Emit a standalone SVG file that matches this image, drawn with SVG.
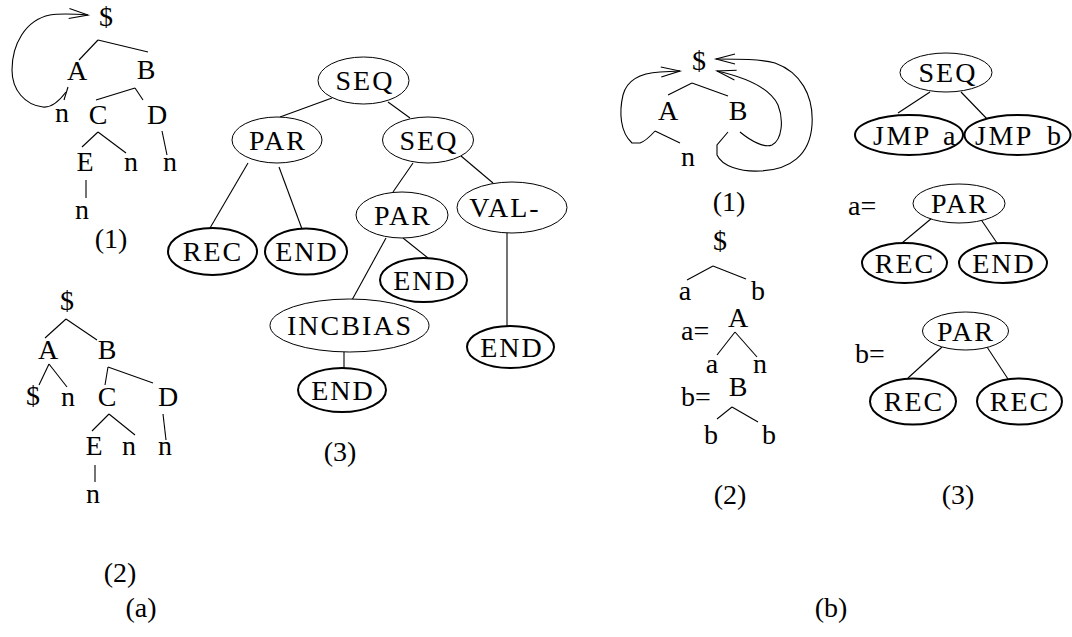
<svg xmlns="http://www.w3.org/2000/svg" width="1072" height="637" viewBox="0 0 1072 637">
<style>
text{font-family:"Liberation Serif","Times New Roman",serif;font-size:28px;fill:#000;text-anchor:middle}
.lbl{letter-spacing:2px}
.eq,.st{text-anchor:start}
.jmp{text-anchor:start;letter-spacing:2.5px}
.thin{fill:#fff;stroke:#000;stroke-width:1}
.thick{fill:#fff;stroke:#000;stroke-width:2}
.c line,.c path{stroke:#000;stroke-width:1.1;fill:none}
</style>
<defs>
<marker id="open" markerUnits="userSpaceOnUse" markerWidth="24" markerHeight="14" refX="20" refY="6" orient="auto" viewBox="0 0 24 12">
<path d="M1,1 L20,6 L1,11" fill="none" stroke="#000" stroke-width="1.1"/>
</marker>
</defs>
<rect width="1072" height="637" fill="#fff"/>

<!-- connectors -->
<g class="c" id="connectors">
<!-- (a)(1) -->
<line x1="98" y1="40" x2="79" y2="60"/>
<line x1="98" y1="40" x2="148" y2="52"/>
<line x1="68" y1="87" x2="64" y2="100"/>
<line x1="135" y1="88" x2="96" y2="100"/>
<line x1="135" y1="88" x2="143" y2="100"/>
<line x1="98" y1="132" x2="82" y2="147"/>
<line x1="98" y1="132" x2="126" y2="153"/>
<line x1="162" y1="131" x2="167" y2="155"/>
<line x1="86" y1="180" x2="86" y2="198"/>
<path d="M66,92 C60,100 52,108 43,107 C25,105 12,90 12,70 C12,45 25,20 50,15 C62,13 75,14 88,15" marker-end="url(#open)"/>
<!-- (a)(2) -->
<line x1="66" y1="319" x2="45" y2="338"/>
<line x1="66" y1="319" x2="97" y2="340"/>
<line x1="49" y1="364" x2="39" y2="385"/>
<line x1="49" y1="364" x2="67" y2="387"/>
<line x1="108" y1="367" x2="105" y2="385"/>
<line x1="108" y1="367" x2="153" y2="383"/>
<line x1="109" y1="414" x2="92" y2="431"/>
<line x1="109" y1="414" x2="135" y2="435"/>
<line x1="163" y1="414" x2="166" y2="440"/>
<line x1="95" y1="465" x2="95" y2="482"/>
<!-- (a)(3) -->
<line x1="332" y1="98" x2="280" y2="117"/>
<line x1="388" y1="102" x2="410" y2="118"/>
<line x1="248" y1="163" x2="210" y2="228"/>
<line x1="279" y1="167" x2="302" y2="229"/>
<line x1="413" y1="163" x2="393" y2="192"/>
<line x1="461" y1="156" x2="493" y2="183"/>
<line x1="507" y1="233" x2="507" y2="326"/>
<line x1="386" y1="238" x2="352" y2="300"/>
<line x1="403" y1="238" x2="428" y2="258"/>
<line x1="344" y1="352" x2="344" y2="368"/>
<!-- (b)(1) -->
<line x1="692" y1="83" x2="668" y2="95"/>
<line x1="692" y1="83" x2="728" y2="96"/>
<line x1="655" y1="131" x2="680" y2="143"/>
<path d="M655,131 Q646,141 640,143 L632,143 C620,132 619,112 623,95 C627,80 640,73 660,72 L680,71" marker-end="url(#open)"/>
<path d="M740,132 C752,142 765,148 772,145 C782,140 784,120 778,105 C770,88 748,78 717,71" marker-end="url(#open)"/>
<path d="M728,132 L717,145 L717,155 C722,166 740,172 760,171 C790,170 810,155 812,125 C814,95 800,72 775,63 C760,59 740,59 716,59" marker-end="url(#open)"/>
<!-- (b)(2) -->
<line x1="713" y1="266" x2="687" y2="280"/>
<line x1="713" y1="266" x2="746" y2="279"/>
<line x1="735" y1="332" x2="717" y2="355"/>
<line x1="735" y1="332" x2="757" y2="357"/>
<line x1="732" y1="407" x2="717" y2="419"/>
<line x1="732" y1="407" x2="758" y2="422"/>
<!-- (b)(3) -->
<line x1="930" y1="92" x2="898" y2="113"/>
<line x1="961" y1="92" x2="990" y2="122"/>
<line x1="932" y1="218" x2="902" y2="243"/>
<line x1="980" y1="218" x2="997" y2="243"/>
<line x1="942" y1="347" x2="908" y2="378"/>
<line x1="987" y1="347" x2="1008" y2="379"/>
</g>

<!-- (a)(1) nodes -->
<g id="a1-root"><text x="106" y="26">$</text></g>
<g id="a1-A"><text x="77" y="80">A</text></g>
<g id="a1-B"><text x="146" y="79">B</text></g>
<g id="a1-n1"><text x="62" y="122">n</text></g>
<g id="a1-C"><text x="98" y="124">C</text></g>
<g id="a1-D"><text x="157" y="124">D</text></g>
<g id="a1-E"><text x="85" y="171">E</text></g>
<g id="a1-n2"><text x="131" y="171">n</text></g>
<g id="a1-n3"><text x="170" y="171">n</text></g>
<g id="a1-n4"><text x="82" y="219">n</text></g>
<g id="a1-cap"><text x="111" y="248">(1)</text></g>

<!-- (a)(2) nodes -->
<g id="a2-root"><text x="67" y="310">$</text></g>
<g id="a2-A"><text x="48" y="359">A</text></g>
<g id="a2-B"><text x="107" y="359">B</text></g>
<g id="a2-dollar"><text x="33" y="405">$</text></g>
<g id="a2-n1"><text x="68" y="406">n</text></g>
<g id="a2-C"><text x="107" y="406">C</text></g>
<g id="a2-D"><text x="168" y="406">D</text></g>
<g id="a2-E"><text x="94" y="455">E</text></g>
<g id="a2-n2"><text x="129" y="455">n</text></g>
<g id="a2-n3"><text x="165" y="455">n</text></g>
<g id="a2-n4"><text x="93" y="503">n</text></g>
<g id="a2-cap"><text x="120" y="582">(2)</text></g>
<g id="a-cap"><text x="141" y="617">(a)</text></g>

<!-- (a)(3) nodes -->
<g id="a3-seq1"><ellipse class="thin" cx="363.5" cy="80.5" rx="45.5" ry="23.5"/><text class="lbl" x="365" y="90">SEQ</text></g>
<g id="a3-par1"><ellipse class="thin" cx="277" cy="140" rx="45" ry="23"/><text class="lbl" x="278" y="150">PAR</text></g>
<g id="a3-seq2"><ellipse class="thin" cx="428" cy="140" rx="45.5" ry="23"/><text class="lbl" x="429" y="150">SEQ</text></g>
<g id="a3-rec"><ellipse class="thick" cx="212.5" cy="251.5" rx="44.5" ry="23.5"/><text class="lbl" x="213" y="261">REC</text></g>
<g id="a3-end1"><ellipse class="thick" cx="306" cy="251.5" rx="41" ry="23"/><text class="lbl" x="307" y="261">END</text></g>
<g id="a3-par2"><ellipse class="thin" cx="402" cy="215" rx="46" ry="23"/><text class="lbl" x="403" y="225">PAR</text></g>
<g id="a3-val"><ellipse class="thin" cx="512" cy="207.5" rx="55" ry="25.5"/><text class="lbl" x="505" y="217">VAL-</text></g>
<g id="a3-end2"><ellipse class="thick" cx="423.5" cy="280" rx="43.5" ry="22"/><text class="lbl" x="425" y="290">END</text></g>
<g id="a3-incbias"><ellipse class="thin" cx="349.5" cy="325.5" rx="79.5" ry="26.5"/><text class="lbl" x="350" y="335">INCBIAS</text></g>
<g id="a3-end3"><ellipse class="thick" cx="342" cy="390" rx="44" ry="22"/><text class="lbl" x="343" y="400">END</text></g>
<g id="a3-end4"><ellipse class="thick" cx="510.5" cy="347" rx="43.5" ry="21"/><text class="lbl" x="512" y="357">END</text></g>
<g id="a3-cap"><text x="340" y="461">(3)</text></g>

<!-- (b)(1) nodes -->
<g id="b1-root"><text x="699" y="70">$</text></g>
<g id="b1-A"><text x="668" y="120">A</text></g>
<g id="b1-B"><text x="738" y="120">B</text></g>
<g id="b1-n"><text x="688" y="166">n</text></g>
<g id="b1-cap"><text x="729" y="211">(1)</text></g>

<!-- (b)(2) nodes -->
<g id="b2-root"><text x="720" y="250">$</text></g>
<g id="b2-a"><text x="685" y="300">a</text></g>
<g id="b2-b"><text x="758" y="300">b</text></g>
<g id="b2-aeq"><text class="eq" x="681" y="340">a=</text></g>
<g id="b2-A"><text x="738" y="327">A</text></g>
<g id="b2-a2"><text x="712" y="373">a</text></g>
<g id="b2-n"><text x="760" y="373">n</text></g>
<g id="b2-beq"><text class="eq" x="681" y="406">b=</text></g>
<g id="b2-B"><text x="738" y="396">B</text></g>
<g id="b2-b2"><text x="711" y="444">b</text></g>
<g id="b2-b3"><text x="769" y="444">b</text></g>
<g id="b2-cap"><text x="730" y="504">(2)</text></g>
<g id="b-cap"><text x="831" y="617">(b)</text></g>

<!-- (b)(3) nodes -->
<g id="b3-seq"><ellipse class="thin" cx="946" cy="72.5" rx="46" ry="19.5"/><text class="lbl" x="948" y="82">SEQ</text></g>
<g id="b3-jmpa"><ellipse class="thick" cx="909" cy="135" rx="54" ry="20"/><text class="jmp" x="873" y="145">JMP</text><text class="st" x="943" y="145">a</text></g>
<g id="b3-jmpb"><ellipse class="thick" cx="1017.5" cy="135" rx="53" ry="20"/><text class="jmp" x="975" y="145">JMP</text><text class="st" x="1047" y="145">b</text></g>
<g id="b3-aeq"><text class="eq" x="848" y="215">a=</text></g>
<g id="b3-par1"><ellipse class="thin" cx="959" cy="203.5" rx="46" ry="19.5"/><text class="lbl" x="960" y="213">PAR</text></g>
<g id="b3-rec1"><ellipse class="thick" cx="904.5" cy="263" rx="42.5" ry="20"/><text class="lbl" x="905" y="273">REC</text></g>
<g id="b3-end"><ellipse class="thick" cx="1003" cy="263" rx="44" ry="20"/><text class="lbl" x="1004" y="273">END</text></g>
<g id="b3-beq"><text class="eq" x="855" y="363">b=</text></g>
<g id="b3-par2"><ellipse class="thin" cx="965.5" cy="331" rx="43" ry="19"/><text class="lbl" x="966" y="341">PAR</text></g>
<g id="b3-rec2"><ellipse class="thick" cx="913" cy="401.5" rx="43" ry="23"/><text class="lbl" x="914" y="411">REC</text></g>
<g id="b3-rec3"><ellipse class="thick" cx="1019.5" cy="401.5" rx="42.5" ry="23"/><text class="lbl" x="1020" y="411">REC</text></g>
<g id="b3-cap"><text x="958" y="504">(3)</text></g>
</svg>
